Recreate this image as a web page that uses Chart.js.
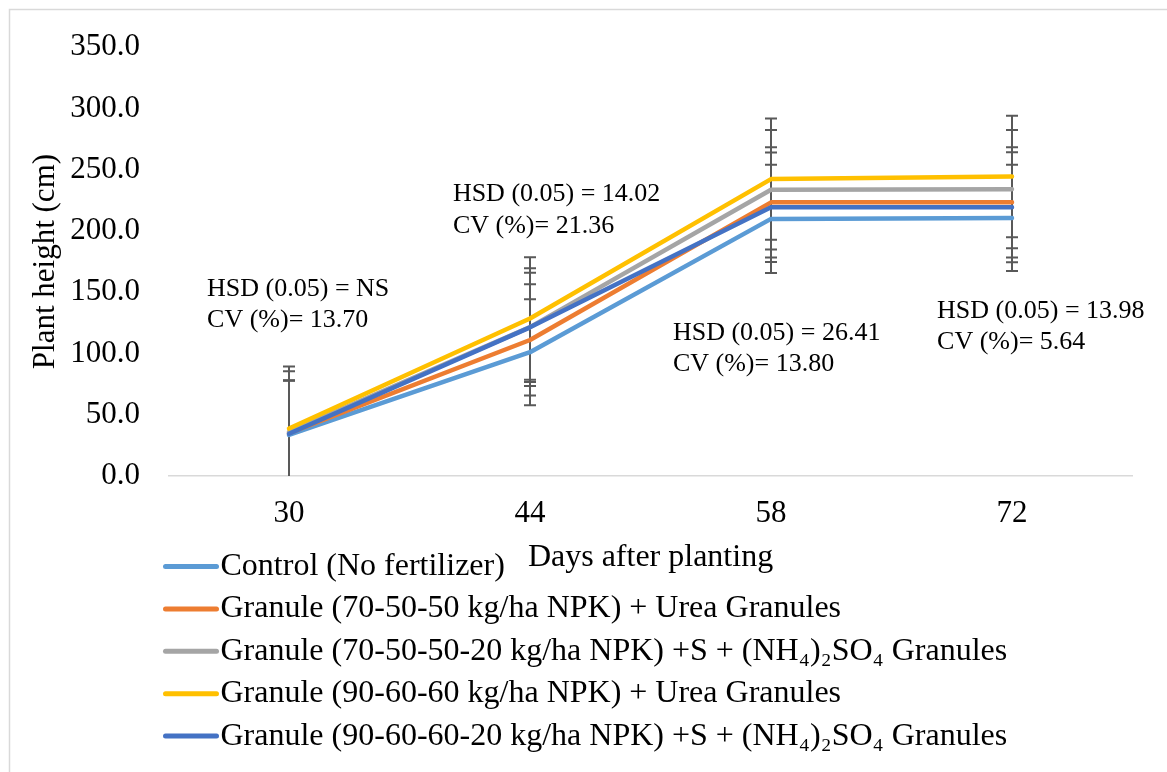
<!DOCTYPE html>
<html lang="en">
<head>
<meta charset="UTF-8">
<title>Plant height</title>
<script src="https://cdn.jsdelivr.net/npm/chart.js"></script>
<style>
    body {
        margin: 0;
        background: #ffffff;
    }
    #wrap {
        position: relative;
        width: 1167px;
        height: 772px;
    }
</style>
</head>
<body>
<div id="wrap"><canvas id="chart" width="1167" height="772"></canvas></div>
<script>
// categories (days after planting)
const days = ['30', '44', '58', '72'];

const seriesNames = [
    'Control (No fertilizer)',
    'Granule (70-50-50 kg/ha NPK) + Urea Granules',
    'Granule (70-50-50-20 kg/ha NPK) +S + (NH\u2084)\u2082SO\u2084 Granules',
    'Granule (90-60-60 kg/ha NPK) + Urea Granules',
    'Granule (90-60-60-20 kg/ha NPK) +S + (NH\u2084)\u2082SO\u2084 Granules'
];

// mean plant height (cm)
const control    = [33.5, 101.0, 209.8, 210.6];
const urea705050 = [35.0, 111.0, 223.3, 223.3];
const sulf705050 = [36.0, 121.5, 233.6, 234.1];
const urea906060 = [38.7, 128.5, 242.3, 244.4];
const sulf906060 = [34.5, 121.3, 219.3, 219.3];

// error bar half-length (+/-)
const controlErr    = [44.4, 43.2, 44.2, 43.4];
const urea705050Err = [43.0, 45.4, 44.9, 44.9];
const sulf705050Err = [49.5, 48.0, 48.8, 48.3];
const urea906060Err = [50.6, 50.0, 49.5, 49.6];
const sulf906060Err = [43.4, 44.5, 44.7, 44.8];

const yTicks = [0, 50, 100, 150, 200, 250, 300, 350];

const hsdNotes = ['HSD (0.05) = NS', 'HSD (0.05) = 14.02', 'HSD (0.05) = 26.41', 'HSD (0.05) = 13.98'];
const cvNotes  = ['CV (%)= 13.70', 'CV (%)= 21.36', 'CV (%)= 13.80', 'CV (%)= 5.64'];

const colors = ['#5B9BD5', '#ED7D31', '#A5A5A5', '#FFC000', '#4472C4'];
const serif = "'Liberation Serif', 'Times New Roman', serif";

const values = [control, urea705050, sulf705050, urea906060, sulf906060];
const errors = [controlErr, urea705050Err, sulf705050Err, urea906060Err, sulf906060Err];

// outer chart frame
const frame = {
    id: 'frame',
    beforeDraw(chart) {
        const ctx = chart.ctx;
        ctx.save();
        ctx.strokeStyle = '#D9D9D9';
        ctx.lineWidth = 1.5;
        ctx.strokeRect(9.5, 9.5, 1300, 900);
        ctx.restore();
    }
};

// vertical error bars, drawn below the lines
const errorBars = {
    id: 'errorBars',
    beforeDatasetsDraw(chart, args, opts) {
        const {ctx, chartArea, scales: {x, y}} = chart;
        ctx.save();
        ctx.beginPath();
        ctx.rect(chartArea.left, chartArea.top, chartArea.width, chartArea.height);
        ctx.clip();
        ctx.strokeStyle = opts.color;
        ctx.lineWidth = opts.width;
        chart.data.datasets.forEach(ds => {
            ds.data.forEach((v, i) => {
                const e = ds.errors[i];
                const px = x.getPixelForValue(i);
                const top = y.getPixelForValue(v + e);
                const bot = y.getPixelForValue(v - e);
                ctx.beginPath();
                ctx.moveTo(px, top);
                ctx.lineTo(px, bot);
                ctx.moveTo(px - opts.cap, top);
                ctx.lineTo(px + opts.cap, top);
                ctx.moveTo(px - opts.cap, bot);
                ctx.lineTo(px + opts.cap, bot);
                ctx.stroke();
            });
        });
        ctx.restore();
    }
};

// HSD / CV text near each sampling date
const notes = {
    id: 'notes',
    afterDatasetsDraw(chart, args, opts) {
        const {ctx, scales: {x, y}} = chart;
        ctx.save();
        ctx.font = opts.font;
        ctx.fillStyle = '#000';
        ctx.textBaseline = 'middle';
        ctx.textAlign = 'left';
        opts.anchors.forEach((a, i) => {
            const px = x.getPixelForValue(a.at);
            const py = y.getPixelForValue(a.value);
            ctx.fillText(hsdNotes[i], px, py);
            ctx.fillText(cvNotes[i], px, py + opts.lineGap);
        });
        ctx.restore();
    }
};

// single-column legend below the axis
const columnLegend = {
    id: 'columnLegend',
    afterDraw(chart, args, opts) {
        const ctx = chart.ctx;
        ctx.save();
        ctx.font = opts.font;
        ctx.fillStyle = '#000';
        ctx.textBaseline = 'middle';
        chart.data.datasets.forEach((ds, i) => {
            const yy = opts.top + i * opts.row;
            ctx.strokeStyle = ds.borderColor;
            ctx.lineWidth = 5;
            ctx.lineCap = 'round';
            ctx.beginPath();
            ctx.moveTo(opts.left, yy);
            ctx.lineTo(opts.left + opts.sample, yy);
            ctx.stroke();
            ctx.fillText(ds.label, opts.left + opts.sample + opts.gap, yy);
        });
        ctx.restore();
    }
};

const datasets = seriesNames.map((name, i) => ({
    label: name,
    data: values[i],
    errors: errors[i],
    borderColor: colors[i],
    backgroundColor: colors[i],
    borderWidth: 4.5,
    borderJoinStyle: 'round',
    borderCapStyle: 'round',
    pointRadius: 0,
    tension: 0,
    order: seriesNames.length - 1 - i
}));

new Chart(document.getElementById('chart'), {
    type: 'line',
    data: { labels: days, datasets: datasets },
    options: {
        responsive: false,
        animation: false,
        devicePixelRatio: 1,
        layout: { padding: { top: 45, left: 0, right: 34.5, bottom: 0 } },
        plugins: {
            legend: { display: false },
            tooltip: { enabled: false },
            errorBars: { color: '#595959', width: 2, cap: 6 },
            notes: {
                font: '26px ' + serif,
                lineGap: 31.5,
                anchors: [
                    { at: -0.34, value: 152.7 },
                    { at: 0.68, value: 229.8 },
                    { at: 1.593, value: 116.9 },
                    { at: 2.689, value: 134.8 }
                ]
            },
            columnLegend: { font: '32px ' + serif, left: 165.5, top: 566.5, row: 42.4, sample: 51, gap: 4 }
        },
        scales: {
            x: {
                offset: true,
                grid: { display: false, drawTicks: false },
                border: { display: true, color: '#D9D9D9', width: 1.5 },
                ticks: { color: '#000', padding: 19.5, font: { family: serif, size: 31 } },
                title: {
                    display: true,
                    text: 'Days after planting',
                    color: '#000',
                    font: { family: serif, size: 32 },
                    padding: { top: 0, bottom: 194.8 }
                },
                afterFit(scale) { scale.height = 296; }
            },
            y: {
                min: 0,
                max: 350,
                afterBuildTicks(scale) { scale.ticks = yTicks.map(v => ({ value: v })); },
                grid: { display: false, drawTicks: false },
                border: { display: false },
                ticks: {
                    color: '#000',
                    padding: 28.5,
                    font: { family: serif, size: 31 },
                    callback: v => Number(v).toFixed(1)
                },
                title: {
                    display: true,
                    text: 'Plant height (cm)',
                    color: '#000',
                    font: { family: serif, size: 31 },
                    padding: { top: 27, bottom: 0 }
                },
                afterFit(scale) { scale.width = 168.5; }
            }
        }
    },
    plugins: [frame, errorBars, notes, columnLegend]
});
</script>
</body>
</html>
